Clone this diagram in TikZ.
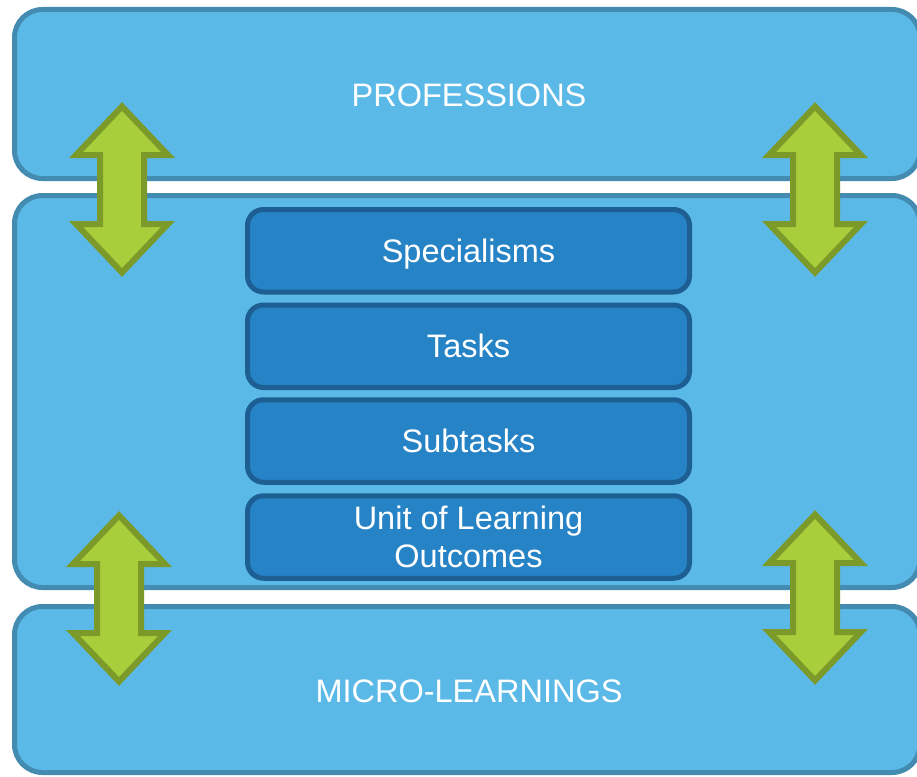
\documentclass[tikz,border=0pt]{standalone}
\usepackage{fontspec}
\setmainfont{Liberation Sans}
\definecolor{outerfill}{HTML}{5BB9E7}
\definecolor{outerline}{HTML}{438BB0}
\definecolor{innerfill}{HTML}{2683C6}
\definecolor{innerline}{HTML}{1D5F92}
\definecolor{arrfill}{HTML}{A9CE3B}
\definecolor{arrline}{HTML}{7C9A29}
\begin{document}
\begin{tikzpicture}[x=1pt,y=-1pt,
  outerbox/.style={draw=outerline, fill=outerfill, line width=5pt, rounded corners=28pt,
    text=white, font=\fontsize{32.5}{38}\selectfont, inner sep=0pt},
  innerbox/.style={draw=innerline, fill=innerfill, line width=5pt, rounded corners=16pt,
    text=white, font=\fontsize{32.5}{38}\selectfont, align=center, inner sep=0pt,
    minimum width=442pt, minimum height=82.5pt},
  oneline/.style={text height=23.3pt, text depth=0pt},
  label/.style={text=white, font=\fontsize{32.5}{38}\selectfont, inner sep=0pt, oneline},
  arrowstyle/.style={draw=arrline, fill=arrfill, line width=6pt, miter limit=10},
  dblarrow/.pic={\draw[arrowstyle] (0,-83) -- (46,-34.5) -- (22,-34.5) -- (22,34.5) -- (46,34.5)
     -- (0,83) -- (-46,34.5) -- (-22,34.5) -- (-22,-34.5) -- (-46,-34.5) -- cycle;}
  ]
\path[use as bounding box] (0,0) rectangle (917,776);
\clip (0,0) rectangle (917,776);
\fill[white] (0,0) rectangle (917,776);
% outer layers
\node[outerbox, minimum width=905.5pt, minimum height=169pt] (prof) at (467.25,94) {};
\node[outerbox, minimum width=905.5pt, minimum height=392pt] (mid) at (467.25,391.5) {};
\node[outerbox, minimum width=905.5pt, minimum height=166pt] (micro) at (467.25,689.5) {};
\node[label] (proftext) at (469,94.5) {PROFESSIONS};
\node[label] (microtext) at (469,691) {MICRO-LEARNINGS};
% inner boxes
\node[innerbox, oneline] (spec) at (468.5,250.75) {Specialisms};
\node[innerbox, oneline] (tasks) at (468.5,346.25) {Tasks};
\node[innerbox, oneline] (subt) at (468.5,441) {Subtasks};
\node[innerbox] (unit) at (468.5,537) {Unit of Learning\\Outcomes};
% arrows
\pic at (122,189.5) {dblarrow};
\pic at (815,189.5) {dblarrow};
\pic at (119,598.5) {dblarrow};
\pic at (815,597.5) {dblarrow};
\end{tikzpicture}
\end{document}
